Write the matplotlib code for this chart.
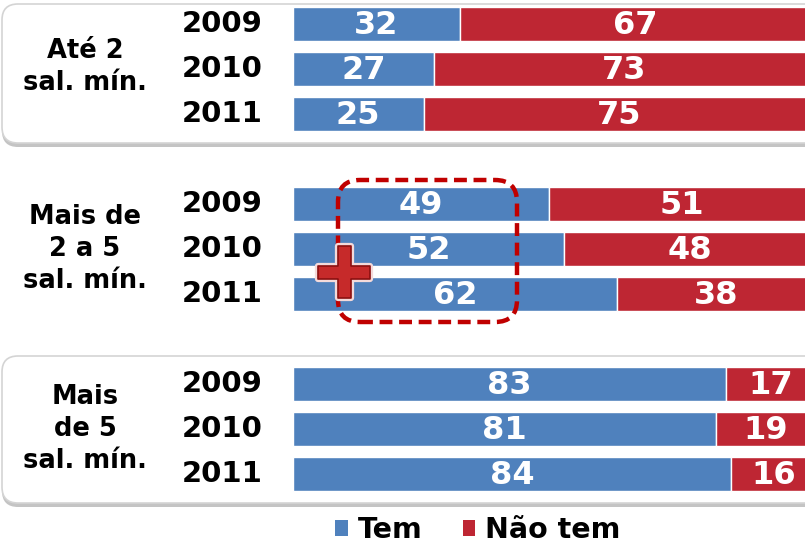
import matplotlib

matplotlib.use("Agg")
import matplotlib.pyplot as plt
import matplotlib.transforms as mtransforms
from matplotlib.patches import FancyBboxPatch, Polygon, Patch

# ── data ──────────────────────────────────────────────────────────────────────
groups = ["Até 2\nsal. mín.", "Mais de\n2 a 5\nsal. mín.", "Mais\nde 5\nsal. mín."]
years = ["2009", "2010", "2011"]
tem = [32, 27, 25, 49, 52, 62, 83, 81, 84]
nao_tem = [67, 73, 75, 51, 48, 38, 17, 19, 16]
series_names = ["Tem", "Não tem"]

BLUE, RED, DASH_RED = "#4F81BD", "#BE2633", "#C00000"
W, H = 805, 547

fig = plt.figure(figsize=(W / 100, H / 100), dpi=100, facecolor="white")
plt.rcParams["font.family"] = ["DejaVu Sans"]


def inch(x, y):
    """pixel (top-left origin) -> inches for dpi_scale_trans"""
    return x / 100, (H - y) / 100


px = fig.dpi_scale_trans

# rounded panels behind groups 1 and 3
for top, bot in [(4, 143), (356, 503)]:
    for off, fc, ec in [(4, "#c4c4c4", "none"), (0, "white", "#d4d4d4")]:
        x0, y0 = inch(2, bot + off)
        fig.patches.append(FancyBboxPatch(
            (x0, y0), (W + 40) / 100, (bot - top) / 100,
            boxstyle="round,pad=0,rounding_size=0.16",
            transform=px, facecolor=fc, edgecolor=ec, lw=1.2, zorder=0))

# bar axes: 9 rows, one blank row between groups
rows = [0, 1, 2, 4, 5, 6, 8, 9, 10]
row_px = 45.0
ax = fig.add_axes([293 / W, 0, 1 - 293 / W, 1])
ax.set_zorder(2)
ax.set_xlim(0, (W - 293) / 5.22)
ax.set_ylim((H - 24) / row_px, -24 / row_px)
ax.axis("off")
ax.patch.set_alpha(0)

ax.barh(rows, tem, height=0.76, color=BLUE, edgecolor="white", lw=1)
ax.barh(rows, nao_tem, left=tem, height=0.76, color=RED, edgecolor="white", lw=1)
for r, a, b in zip(rows, tem, nao_tem):
    ax.text(a / 2, r + 0.03, str(a), ha="center", va="center", color="white",
            fontsize=23, fontweight="bold")
    ax.text(a + b / 2, r + 0.03, str(b), ha="center", va="center", color="white",
            fontsize=23, fontweight="bold")

lab = mtransforms.blended_transform_factory(fig.transFigure, ax.transData)
for i, r in enumerate(rows):
    ax.text(263 / W, r, years[i % 3], transform=lab, ha="right", va="center",
            fontsize=21, fontweight="bold", color="black")
for g, name in enumerate(groups):
    ax.text(85 / W, rows[g * 3 + 1] - (0.05 if g == 0 else 0), name, transform=lab,
            ha="center", va="center", fontsize=18.5, fontweight="bold",
            linespacing=1.3, color="black")

# dashed highlight around the "Tem" values of the middle group
x0, y0 = inch(338, 322)
fig.patches.append(FancyBboxPatch(
    (x0, y0), (517 - 338) / 100, (322 - 180) / 100,
    boxstyle="round,pad=0,rounding_size=0.22", transform=px,
    facecolor="none", edgecolor=DASH_RED, lw=3.2,
    linestyle=(0, (2.9, 1.5)), zorder=5))

# plus sign
cx, cy, hl, hw, ht = 344, 272, 26, 6.5, 6.5
pts = [(cx - hw, cy - hl), (cx + hw, cy - hl), (cx + hw, cy - ht), (cx + hl, cy - ht),
       (cx + hl, cy + ht), (cx + hw, cy + ht), (cx + hw, cy + hl), (cx - hw, cy + hl),
       (cx - hw, cy + ht), (cx - hl, cy + ht), (cx - hl, cy - ht), (cx - hw, cy - ht)]
pts = [inch(x, y) for x, y in pts]
fig.patches.append(Polygon(pts, closed=True, transform=px, facecolor="none",
                           edgecolor="#f4dada", lw=4.5, joinstyle="round", zorder=6))
fig.patches.append(Polygon(pts, closed=True, transform=px, facecolor="#C62A2A",
                           edgecolor="#8B1010", lw=1.2, joinstyle="round", zorder=7))

# legend
handles = [Patch(facecolor=BLUE, edgecolor="none"), Patch(facecolor=RED, edgecolor="none")]
fig.legend(handles, series_names, loc="center", bbox_to_anchor=(478 / W, 1 - 530 / H),
           ncol=2, frameon=False, prop={"size": 20.5, "weight": "bold"},
           handlelength=0.45, handleheight=0.45, handletextpad=0.35,
           columnspacing=1.4, borderpad=0)

fig.savefig("out.png", dpi=100, facecolor="white")
